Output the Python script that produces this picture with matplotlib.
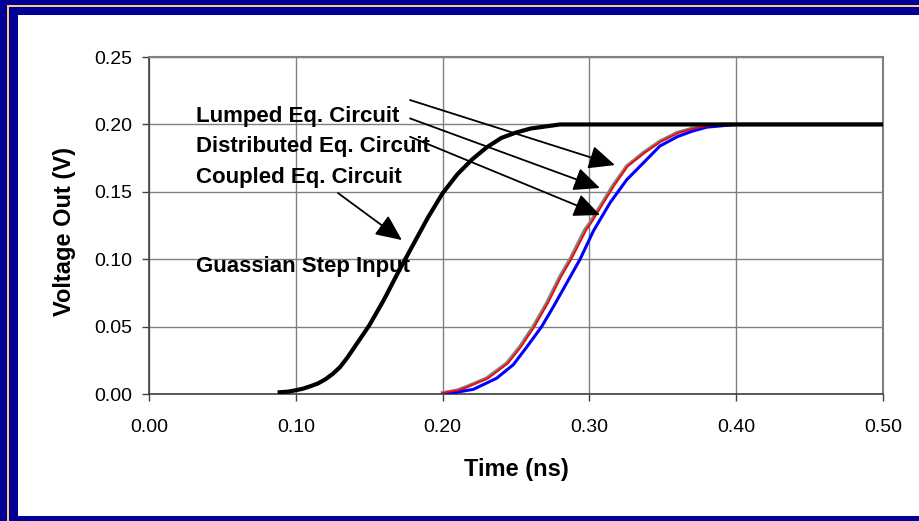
import matplotlib
matplotlib.use('Agg')
import matplotlib.pyplot as plt
from matplotlib.patches import Rectangle

plt.rcParams['font.family'] = ['Liberation Sans', 'DejaVu Sans']

# Gaussian step input (black)
t_input = [0.089, 0.095, 0.100, 0.105, 0.110, 0.115, 0.120, 0.125, 0.130, 0.135, 0.140, 0.145,
           0.150, 0.160, 0.170, 0.175, 0.180, 0.190, 0.200, 0.210, 0.220, 0.230, 0.240, 0.250,
           0.260, 0.270, 0.280, 0.500]
v_input = [0.0015, 0.002, 0.003, 0.0042, 0.006, 0.008, 0.011, 0.015, 0.020, 0.027, 0.035, 0.043,
           0.051, 0.070, 0.091, 0.101, 0.111, 0.131, 0.149, 0.163, 0.174, 0.183, 0.190, 0.194,
           0.197, 0.1985, 0.200, 0.200]

# Lumped eq. circuit (gray)
t_lumped = [0.200, 0.210, 0.2164, 0.230, 0.2437, 0.2527, 0.2618, 0.2709, 0.2800, 0.2868, 0.297,
            0.3004, 0.3072, 0.3163, 0.3254, 0.3368, 0.348, 0.360, 0.370, 0.380, 0.390, 0.500]
v_lumped = [0.001, 0.003, 0.0056, 0.0119, 0.023, 0.0353, 0.0502, 0.0675, 0.0873, 0.100, 0.122,
            0.127, 0.139, 0.155, 0.169, 0.179, 0.1875, 0.194, 0.197, 0.199, 0.200, 0.200]

# Distributed eq. circuit (red)
t_distrib = [0.200, 0.211, 0.217, 0.231, 0.2445, 0.2535, 0.2626, 0.2717, 0.2808, 0.2876, 0.298,
             0.3012, 0.308, 0.317, 0.326, 0.3375, 0.349, 0.361, 0.371, 0.381, 0.391, 0.500]
v_distrib = [0.001, 0.003, 0.0056, 0.0119, 0.023, 0.0353, 0.0502, 0.0675, 0.0873, 0.100, 0.122,
             0.127, 0.139, 0.155, 0.169, 0.179, 0.1875, 0.194, 0.197, 0.199, 0.200, 0.200]

# Coupled eq. circuit (blue)
t_coupled = [0.200, 0.205, 0.221, 0.2368, 0.2482, 0.2573, 0.2675, 0.2755, 0.2845, 0.2936, 0.3027,
             0.3141, 0.3254, 0.339, 0.348, 0.360, 0.370, 0.380, 0.390, 0.400, 0.500]
v_coupled = [0.0, 0.0007, 0.0037, 0.0119, 0.022, 0.035, 0.0502, 0.065, 0.0824, 0.100, 0.121,
             0.142, 0.159, 0.174, 0.184, 0.191, 0.195, 0.198, 0.199, 0.200, 0.200]

x_ticks = [0.0, 0.1, 0.2, 0.3, 0.4, 0.5]
y_ticks = [0.0, 0.05, 0.10, 0.15, 0.20, 0.25]

# annotation labels: text position, arrow start, arrow tip
labels = ['Lumped Eq. Circuit', 'Distributed Eq. Circuit', 'Coupled Eq. Circuit', 'Guassian Step Input']
label_pos = [(0.032, 0.206), (0.032, 0.184), (0.032, 0.161), (0.032, 0.095)]
arrow_from = [(0.1778, 0.2181), (0.1778, 0.2045), (0.1778, 0.1909), (0.1287, 0.1492)]
arrow_to = [(0.3174, 0.1699), (0.3072, 0.1529), (0.3072, 0.1329), (0.1723, 0.1143)]

W, H = 920, 521
fig = plt.figure(figsize=(9.2, 5.21), dpi=100, facecolor='#000099')

# slide frame: gold rule and white panel (behind the axes)
fig.add_artist(Rectangle((8 / W, 1 - 7 / H), 1 - 8 / W, 2 / H, transform=fig.transFigure,
                         facecolor='#ffcc66', edgecolor='none', zorder=-10))
fig.add_artist(Rectangle((7 / W, 0), 2 / W, 1 - 5 / H, transform=fig.transFigure,
                         facecolor='#ffcc66', edgecolor='none', zorder=-10))
fig.add_artist(Rectangle((18 / W, 5 / H), 1 - 18 / W, (516 - 15) / H, transform=fig.transFigure,
                         facecolor='white', edgecolor='none', zorder=-10))

ax = fig.add_axes([149 / W, 1 - 394.3 / H, (883 - 149) / W, (394.3 - 57) / H])
ax.set_facecolor('white')

ax.plot(t_lumped, v_lumped, color='#808080', lw=2.6, zorder=3)
ax.plot(t_distrib, v_distrib, color='#ff0000', lw=1.2, zorder=4)
ax.plot(t_coupled, v_coupled, color='#0000ff', lw=2.2, zorder=3)
ax.plot(t_input, v_input, color='black', lw=3.0, zorder=5)

for txt, pos in zip(labels, label_pos):
    ax.text(pos[0], pos[1], txt, fontsize=16, fontweight='bold', va='center', ha='left', zorder=6)
for a, b in zip(arrow_from, arrow_to):
    ax.annotate('', xy=b, xytext=a,
                arrowprops=dict(arrowstyle='-|>,head_length=0.8,head_width=0.36', color='black',
                                lw=1.3, mutation_scale=20, shrinkA=0, shrinkB=0), zorder=7)

ax.set_xlim(0, 0.5)
ax.set_ylim(0, 0.25)
ax.set_xticks(x_ticks)
ax.set_yticks(y_ticks)
ax.set_xticklabels(['%.2f' % v for v in x_ticks])
ax.set_yticklabels(['%.2f' % v for v in y_ticks])
ax.tick_params(axis='both', direction='out', length=5, width=1, color='#404040', labelsize=14)
ax.tick_params(axis='x', pad=13)
ax.tick_params(axis='y', pad=7)
ax.grid(True, color='#808080', lw=1, zorder=0)
ax.set_axisbelow(True)

for side in ['top', 'right']:
    ax.spines[side].set_color('#808080')
    ax.spines[side].set_linewidth(1.5)
for side in ['left', 'bottom']:
    ax.spines[side].set_color('#404040')
    ax.spines[side].set_linewidth(1.2)

ax.set_xlabel('Time (ns)', fontsize=17, fontweight='bold')
ax.set_ylabel('Voltage Out (V)', fontsize=17, fontweight='bold')
ax.xaxis.set_label_coords(0.5, -0.19)
ax.yaxis.set_label_coords(-0.099, 0.484)

fig.savefig('out.png', dpi=100, facecolor=fig.get_facecolor())
